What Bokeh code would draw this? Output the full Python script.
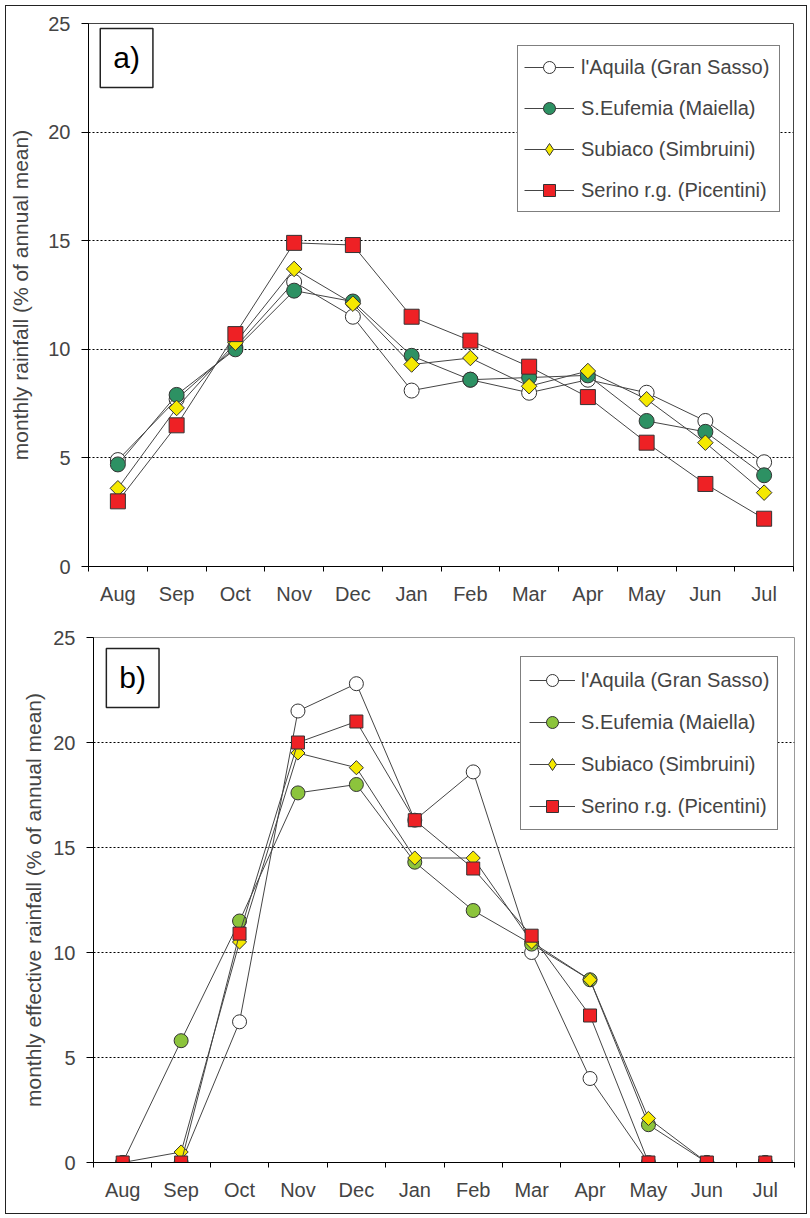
import numpy as np
from bokeh.plotting import figure
from bokeh.models import Range1d, FixedTicker, Legend, LegendItem, Label
from bokeh.layouts import column
from bokeh.embed import file_html
from bokeh.resources import INLINE

# ---- data -------------------------------------------------------------
months = ["Aug", "Sep", "Oct", "Nov", "Dec", "Jan", "Feb", "Mar", "Apr", "May", "Jun", "Jul"]
stations = ["l'Aquila (Gran Sasso)", "S.Eufemia (Maiella)",
            "Subiaco (Simbruini)", "Serino r.g. (Picentini)"]

# monthly rainfall (% of annual mean)
rain_aquila = [4.9, 7.7, 10.1, 13.1, 11.5, 8.1, 8.6, 8.0, 8.6, 8.0, 6.7, 4.8]
rain_eufemia = [4.7, 7.9, 10.0, 12.7, 12.2, 9.7, 8.6, 8.7, 8.8, 6.7, 6.2, 4.2]
rain_subiaco = [3.6, 7.3, 10.3, 13.7, 12.1, 9.3, 9.6, 8.3, 9.0, 7.7, 5.7, 3.4]
rain_serino = [3.0, 6.5, 10.7, 14.9, 14.8, 11.5, 10.4, 9.2, 7.8, 5.7, 3.8, 2.2]

# monthly effective rainfall (% of annual mean)
eff_aquila = [0.0, 0.0, 6.7, 21.5, 22.8, 16.3, 18.6, 10.0, 4.0, 0.0, 0.0, 0.0]
eff_eufemia = [0.0, 5.8, 11.5, 17.6, 18.0, 14.3, 12.0, 10.4, 8.7, 1.8, 0.0, 0.0]
eff_subiaco = [0.0, 0.5, 10.5, 19.5, 18.8, 14.5, 14.5, 10.5, 8.7, 2.1, 0.0, 0.0]
eff_serino = [0.0, 0.0, 10.9, 20.0, 21.0, 16.3, 14.0, 10.8, 7.0, 0.0, 0.0, 0.0]

y_ticks = [0, 5, 10, 15, 20, 25]
grid_ticks = [5, 10, 15, 20]

FONT = "Liberation Sans"
EDGE = "#333333"
LINE = "#454545"
YELLOW = "#F5E900"
RED = "#EE2125"

# month slots: one unit per month, marks at slot centres
centers = [i + 0.5 for i in range(len(months))]
bounds = list(range(len(months) + 1))


def make_panel(series, green, ylabel, tag, tag_xy, legend_cfg, sizes, layout):
    width, height, left, right, top, bottom, ylab_standoff, frame_color = layout
    p = figure(width=width, height=height, output_backend="svg", toolbar_location=None,
               x_range=Range1d(0, len(months)), y_range=Range1d(0, 25),
               min_border_left=left, min_border_right=right,
               min_border_top=top, min_border_bottom=bottom)
    p.frame_align = False
    p.background_fill_color = "white"
    p.border_fill_color = "white"
    p.outline_line_color = frame_color
    p.outline_line_width = 1

    styles = [
        dict(marker="circle", fill="white", size=sizes[0], angle=0.0),
        dict(marker="circle", fill=green, size=sizes[0], angle=0.0),
        dict(marker="square", fill=YELLOW, size=sizes[1], angle=np.pi / 4),
        dict(marker="square", fill=RED, size=sizes[2], angle=0.0),
    ]
    items = []
    for name, vals, st in zip(stations, series, styles):
        lr = p.line(centers, vals, line_color=LINE, line_width=1)
        sr = p.scatter(centers, vals, marker=st["marker"], size=st["size"], angle=st["angle"],
                       fill_color=st["fill"], line_color=EDGE, line_width=1)
        if st["angle"] != 0.0:
            # legend swatch for the rotated marker (legend glyphs ignore angle);
            # its single point is NaN so nothing is drawn in the plot area
            sr = p.scatter([np.nan], [np.nan], marker="diamond", fill_color=st["fill"],
                           line_color=EDGE, line_width=1)
        items.append(LegendItem(label=name, renderers=[lr, sr]))

    # axes
    p.yaxis.ticker = FixedTicker(ticks=y_ticks)
    p.yaxis.axis_label = ylabel
    p.yaxis.axis_label_text_font = FONT
    p.yaxis.axis_label_text_font_size = "21px"
    p.yaxis.axis_label_text_font_style = "normal"
    p.yaxis.axis_label_standoff = ylab_standoff
    p.yaxis.major_label_text_font = FONT
    p.yaxis.major_label_text_font_size = "20px"
    p.yaxis.major_label_standoff = 11
    p.yaxis.major_tick_out = 7
    p.yaxis.major_tick_in = 0
    p.yaxis.minor_tick_line_color = None
    p.yaxis.axis_line_color = "black"

    p.xaxis.ticker = FixedTicker(ticks=centers, minor_ticks=bounds)
    p.xaxis.major_label_overrides = {c: m for c, m in zip(centers, months)}
    p.xaxis.major_label_text_font = FONT
    p.xaxis.major_label_text_font_size = "20px"
    p.xaxis.major_label_standoff = 11
    p.xaxis.major_tick_out = 0
    p.xaxis.major_tick_in = 0
    p.xaxis.minor_tick_out = 5
    p.xaxis.minor_tick_in = 0
    p.xaxis.minor_tick_line_color = "black"
    p.xaxis.axis_line_color = "black"

    # grid
    p.xgrid.visible = False
    p.ygrid.ticker = FixedTicker(ticks=grid_ticks)
    p.ygrid.grid_line_color = "black"
    p.ygrid.grid_line_dash = "2 2"
    p.ygrid.grid_line_width = 1

    # legend
    lx, ly, pad, spacing, gw, standoff, lw = legend_cfg
    legend = Legend(items=items, location=(lx, ly),
                    border_line_color="black", border_line_width=1,
                    background_fill_color="white", background_fill_alpha=1.0,
                    label_text_font=FONT, label_text_font_size="20px",
                    glyph_width=gw, glyph_height=30, label_height=30, label_width=lw,
                    spacing=spacing, padding=pad, margin=0, label_standoff=standoff)
    p.add_layout(legend)

    # panel tag
    p.add_layout(Label(x=tag_xy[0], y=tag_xy[1], text=tag, anchor="top_left",
                       text_font=FONT, text_font_size="30px", text_color="black",
                       border_line_color="#222222", border_line_width=1.5,
                       background_fill_color="white", padding=13))
    return p


p1 = make_panel([rain_aquila, rain_eufemia, rain_subiaco, rain_serino], "#2D9163",
                "monthly rainfall (% of annual mean)", "a)", (0.2, 24.77),
                (429, 354, 6, 11, 50, 7, 192), (15, 11, 15),
                (800, 605, 82, 13, 17, 45, 13, "#444444"))
p2 = make_panel([eff_aquila, eff_eufemia, eff_subiaco, eff_serino], "#8CC43C",
                "monthly effective rainfall (% of annual mean)", "b)", (0.22, 24.48),
                (427, 332, 8, 12, 46, 6, 180), (14, 10, 13),
                (800, 602, 87, 12, 26, 51, 5, "#999999"))

page = column(p1, p2, margin=(5, 0, 0, 5), spacing=0,
              styles={"border": "1px solid #222222"})

with open("out.html", "w") as f:
    f.write(file_html(page, INLINE))
